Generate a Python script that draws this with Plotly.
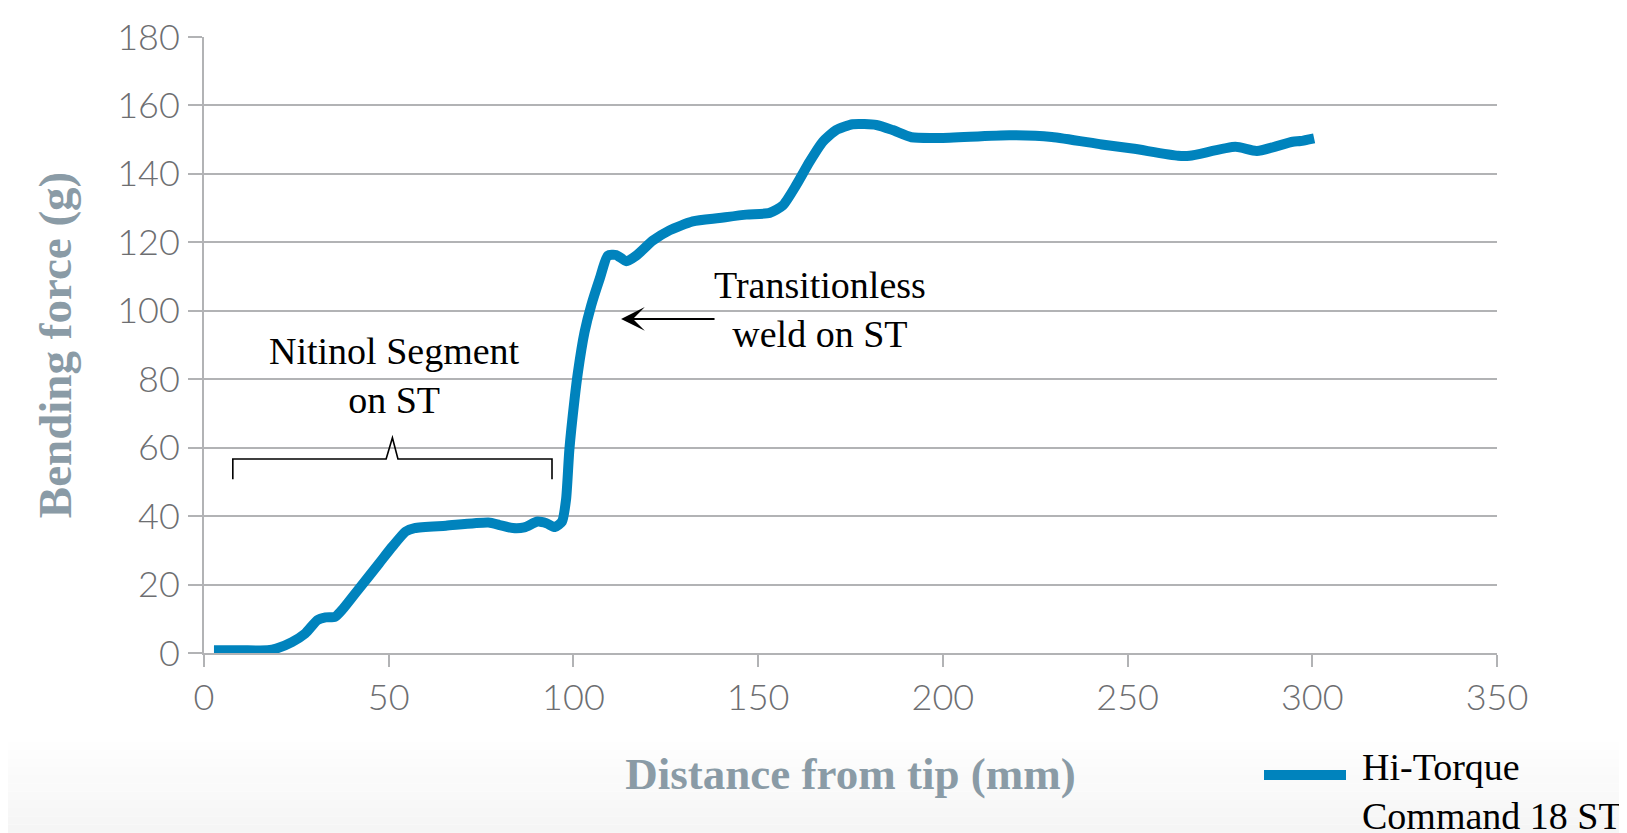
import plotly.graph_objects as go

# Bending force profile, Hi-Torque Command 18 ST
distance_mm = [
    2.7, 10, 17.2, 19.6, 23.8, 27.4, 30.7, 32.9, 35.5, 37.7, 41.3, 47.4, 51, 54.6,
    57, 65.5, 77, 80, 83.6, 86.7, 90.3, 92.7, 95.0, 96.9, 98.0, 98.9, 100.3, 101.2,
    103, 104.8, 107.1, 109.3, 111.6, 114.3, 117, 121.5, 126, 132.3, 139.5, 146.8,
    153.1, 156.7, 160.3, 163.9, 167.5, 171.1, 175.6, 182, 186.4, 191.5, 199, 218,
    229.5, 243, 251.3, 263.7, 266.8, 279.2, 285, 294.7, 296.8, 300.5,
]
bending_force_g = [
    0.8, 0.8, 0.8, 1.3, 3.2, 5.7, 9.6, 10.4, 10.6, 13, 17.9, 26.2, 31.1, 35.5,
    36.5, 37.2, 38.1, 37.4, 36.5, 36.7, 38.4, 37.9, 36.8, 38.4, 44.8, 59.4, 74.1, 81.9,
    93.7, 101.5, 109.3, 116.1, 116.3, 114.5, 116.1, 120.5, 123.5, 126.1, 127.1, 128.1,
    128.6, 130.8, 136.7, 143.5, 149.4, 152.8, 154.5, 154.3, 152.8, 150.7, 150.5, 151.3,
    150.8, 148.6, 147.4, 145.3, 145.3, 147.9, 146.7, 149.4, 149.6, 150.4,
]
series_name = "Hi-Torque<br>Command 18 ST"

x_ticks = [0, 50, 100, 150, 200, 250, 300, 350]
y_ticks = [0, 20, 40, 60, 80, 100, 120, 140, 160, 180]

# Nitinol segment bracket (x start, x peak, x end / y base, y bar, y peak)
bracket_x = [7.8, 49.3, 51.0, 52.5, 94.2]
bracket_y = [50.8, 56.7, 62.9]

LINE_BLUE = "#0083BD"
GRID = "#B2B3B5"
TICK_GRAY = "#6D6E71"
TITLE_GRAY = "#8A9BA6"
SERIF = "Liberation Serif, DejaVu Serif, serif"
SANS = "Lato, Open Sans, sans-serif"

# the page body adds an 8px offset, so work in window pixels and shift back
OFF = 8
W, H = 1627, 833
L, T = 204 - OFF, 37 - OFF
R, B = W - (1497 - OFF), H - (653 - OFF)
PW, PH = W - L - R, H - T - B


def px_to_paper(xp, yp):
    return (xp - OFF - L) / PW, (H - B - (yp - OFF)) / PH


fig = go.Figure()
fig.add_trace(go.Scatter(
    x=distance_mm, y=bending_force_g, mode="lines", name=series_name,
    line=dict(color=LINE_BLUE, width=10, shape="spline", smoothing=0.6),
    showlegend=False, hoverinfo="x+y",
))

shapes = []
# soft grey fade at the bottom of the page
n_bands = 12
top = 742
for i in range(n_bands):
    y0 = top + i * (H + OFF - top) / n_bands
    y1 = top + (i + 1) * (H + OFF - top) / n_bands
    g = int(round(255 - 11 * (i + 1) / n_bands))
    x0p, y0p = px_to_paper(0, y0)
    x1p, y1p = px_to_paper(W + OFF, y1)
    shapes.append(dict(type="rect", xref="paper", yref="paper", x0=x0p, x1=x1p,
                       y0=y1p, y1=y0p, fillcolor=f"rgb({g},{g},{g})",
                       line=dict(width=0), layer="below"))

bx, by = bracket_x, bracket_y
path = (f"M {bx[0]},{by[0]} L {bx[0]},{by[1]} L {bx[1]},{by[1]} L {bx[2]},{by[2]} "
        f"L {bx[3]},{by[1]} L {bx[4]},{by[1]} L {bx[4]},{by[0]}")
shapes.append(dict(type="path", xref="x", yref="y", path=path,
                   line=dict(color="black", width=1.6)))

# manual legend swatch
lx0, ly = px_to_paper(1264, 775)
lx1, _ = px_to_paper(1346, 775)
shapes.append(dict(type="line", xref="paper", yref="paper", x0=lx0, x1=lx1,
                   y0=ly, y1=ly, line=dict(color=LINE_BLUE, width=10)))

note_font = dict(family=SERIF, size=38, color="black")
annotations = [
    dict(x=51.6, y=81.1, xref="x", yref="y", text="Nitinol Segment<br>on ST",
         showarrow=False, font=note_font),
    dict(x=166.7, y=100.3, xref="x", yref="y", text="Transitionless<br>weld on ST",
         showarrow=False, font=note_font),
    dict(x=112.9, y=97.6, xref="x", yref="y", ax=138.6, ay=97.6, axref="x", ayref="y",
         text="", showarrow=True, arrowhead=3, arrowsize=1.8, arrowwidth=2.2,
         arrowcolor="black"),
]
tx, ty = px_to_paper(1360, 791)
annotations.append(dict(x=tx, y=ty, xref="paper", yref="paper", text=series_name,
                        showarrow=False, xanchor="left", yanchor="middle", align="left",
                        font=note_font))

fig.update_layout(
    width=W, height=H,
    margin=dict(l=L, r=R, t=T, b=B),
    paper_bgcolor="white", plot_bgcolor="white",
    shapes=shapes, annotations=annotations,
    showlegend=False,
)
fig.update_xaxes(
    range=[0, 350], tickvals=x_ticks, showgrid=False, zeroline=False,
    showline=True, linecolor=GRID, linewidth=2, automargin=False,
    ticks="outside", ticklen=12, tickwidth=2, tickcolor=GRID,
    tickfont=dict(family=SANS, size=36, color=TICK_GRAY, weight=300),
    title=dict(text="Distance from tip (mm)", standoff=40,
               font=dict(family=SERIF, size=45, color=TITLE_GRAY, weight="bold")),
)
fig.update_yaxes(
    range=[0, 180], tickvals=y_ticks, showgrid=True, gridcolor=GRID, gridwidth=2,
    zeroline=False, showline=True, linecolor=GRID, linewidth=2, automargin=False,
    ticks="outside", ticklen=14, tickwidth=2, tickcolor=GRID, ticklabelstandoff=1,
    tickfont=dict(family=SANS, size=36, color=TICK_GRAY, weight=300),
    title=dict(text="Bending force (g)", standoff=31,
               font=dict(family=SERIF, size=47, color=TITLE_GRAY, weight="bold")),
)

fig.write_html("out.html")
